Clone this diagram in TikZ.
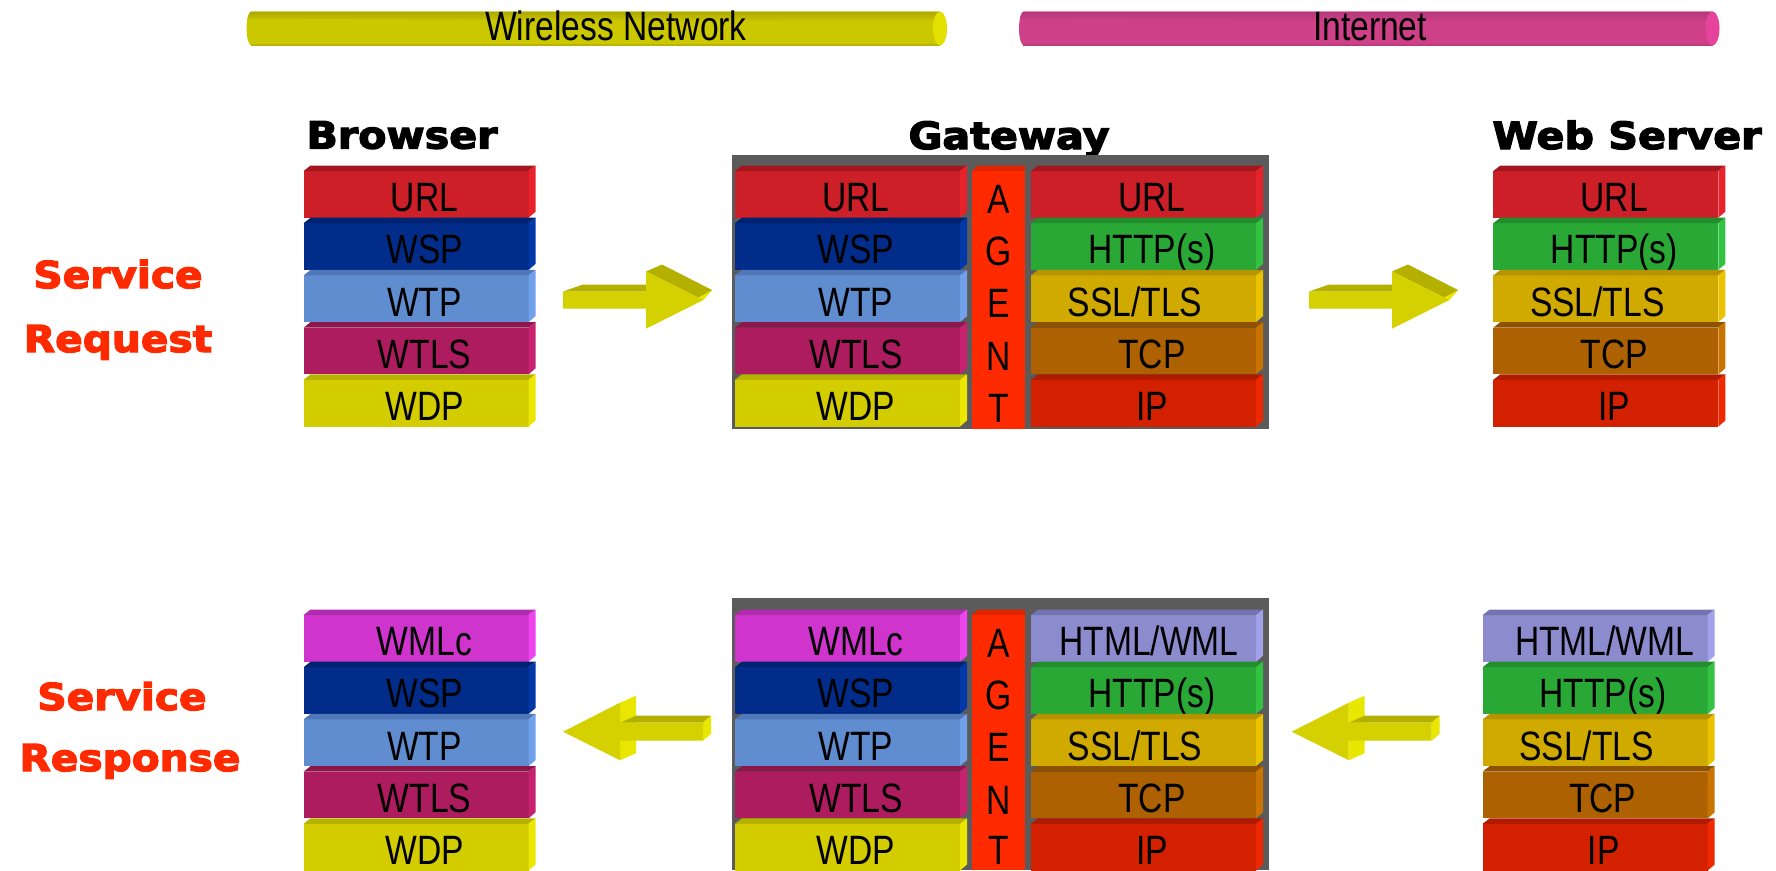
\documentclass[tikz,border=0pt]{standalone}
\usepackage{fontspec}
\setmainfont{Liberation Sans}
\newfontfamily\narrowfont[FakeStretch=0.82]{Liberation Sans}
\newfontfamily\heavyfont[FakeStretch=1.1,FakeBold=3.5]{DejaVu Sans Bold}

% layer colours: F = front face, T = top face, S = side face
\definecolor{urlF}{HTML}{CC1F27}\definecolor{urlT}{HTML}{A3181F}\definecolor{urlS}{HTML}{E8222B}
\definecolor{wspF}{HTML}{012C8A}\definecolor{wspT}{HTML}{002371}\definecolor{wspS}{HTML}{0038A8}
\definecolor{wtpF}{HTML}{608CD0}\definecolor{wtpT}{HTML}{5078B9}\definecolor{wtpS}{HTML}{70A0EA}
\definecolor{wtlsF}{HTML}{AD1C5E}\definecolor{wtlsT}{HTML}{8D164C}\definecolor{wtlsS}{HTML}{C62270}
\definecolor{wdpF}{HTML}{D3CD00}\definecolor{wdpT}{HTML}{B7B200}\definecolor{wdpS}{HTML}{EBE700}
\definecolor{httpF}{HTML}{2AA836}\definecolor{httpT}{HTML}{228E2C}\definecolor{httpS}{HTML}{34C243}
\definecolor{sslF}{HTML}{D1AA00}\definecolor{sslT}{HTML}{B69300}\definecolor{sslS}{HTML}{EAC200}
\definecolor{tcpF}{HTML}{AD6100}\definecolor{tcpT}{HTML}{8F5000}\definecolor{tcpS}{HTML}{C97300}
\definecolor{ipF}{HTML}{D32100}\definecolor{ipT}{HTML}{B01B00}\definecolor{ipS}{HTML}{EF2800}
\definecolor{wmlcF}{HTML}{CF35CD}\definecolor{wmlcT}{HTML}{B02BAE}\definecolor{wmlcS}{HTML}{EE44EE}
\definecolor{htmlF}{HTML}{8B8BCE}\definecolor{htmlT}{HTML}{7373B0}\definecolor{htmlS}{HTML}{A2A2EA}
\definecolor{agentF}{HTML}{FF2A00}\definecolor{agentT}{HTML}{E02400}
\definecolor{gwgray}{HTML}{5B5B5B}
\definecolor{arrF}{HTML}{D5D100}\definecolor{arrT}{HTML}{B4B000}\definecolor{arrS}{HTML}{E9E600}
\definecolor{wlDark}{HTML}{ADA800}\definecolor{wlMid}{HTML}{CCC800}\definecolor{wlEnd}{HTML}{E3E000}
\definecolor{inDark}{HTML}{B5377A}\definecolor{inMid}{HTML}{CE4087}\definecolor{inEnd}{HTML}{E6449C}
\definecolor{svc}{HTML}{FF2A00}

\tikzset{
  lbl/.style={anchor=base, inner sep=0pt, text=black,
    font=\narrowfont\fontsize{41}{41}\selectfont},
  title/.style={anchor=base, inner sep=0pt, text=black,
    font=\heavyfont\fontsize{37.5}{37.5}\selectfont},
  svclbl/.style={anchor=base, inner sep=0pt, text=svc,
    font=\heavyfont\fontsize{37}{37}\selectfont},
}

% one protocol layer: name, left x, top y, colour prefix, label, label offset
\newcommand\slab[6]{%
  \fill[#4F] (#2,#3+5.5) rectangle (#2+225,#3+52.2);
  \fill[#4T] (#2,#3+5.5) -- (#2+7,#3) -- (#2+232,#3) -- (#2+225,#3+5.5) -- cycle;
  \fill[#4S] (#2+225,#3+5.5) -- (#2+232,#3) -- (#2+232,#3+46.2) -- (#2+225,#3+52.2) -- cycle;
  \node[lbl] (#1) at (#2+#6,#3+46.2) {#5};
}

% block arrow pointing right, tip at (#1,#2)
\newcommand\rarrow[2]{%
  \fill[arrT] (#1-140,#2-8.5) -- (#1-120,#2-15.5) -- (#1-41,#2-15.5) -- (#1-57,#2-8.5) -- cycle;
  \fill[arrT] (#1-57,#2-28.5) -- (#1-41,#2-35.5) -- (#1+9,#2-10) -- (#1,#2) -- cycle;
  \fill[arrS] (#1,#2) -- (#1+9,#2-10) -- (#1-45,#2+20) -- (#1-57,#2+28.5) -- cycle;
  \fill[arrF] (#1-140,#2-8.5) -- (#1-57,#2-8.5) -- (#1-57,#2-28.5) -- (#1,#2)
    -- (#1-57,#2+28.5) -- (#1-57,#2+8.5) -- (#1-140,#2+8.5) -- cycle;
}

% block arrow pointing left, tip at (#1,#2)
\newcommand\larrow[2]{%
  \fill[arrS] (#1+57,#2-29) -- (#1+73,#2-36) -- (#1+73,#2+21.5) -- (#1+57,#2+28.5) -- cycle;
  \fill[arrT] (#1+57,#2-9) -- (#1+73,#2-16) -- (#1+148,#2-16) -- (#1+140,#2-9) -- cycle;
  \fill[arrS] (#1+140,#2-9) -- (#1+148,#2-16) -- (#1+148,#2+2) -- (#1+140,#2+9) -- cycle;
  \fill[arrF] (#1,#2) -- (#1+57,#2-29) -- (#1+57,#2-9) -- (#1+140,#2-9)
    -- (#1+140,#2+9) -- (#1+57,#2+9) -- (#1+57,#2+28.5) -- cycle;
}

% horizontal tube: left x, right x, dark, mid, end colour
\newcommand\tube[5]{%
  \fill[#4]
    (#2-7,11.5) -- (#1+5,11.5) arc[start angle=270, end angle=90, x radius=5, y radius=17]
    -- (#2-7,45.5) -- cycle;
  \shade[top color=#3, bottom color=#4]
    (#2-7,11.5) -- (#1+5,11.5) arc[start angle=270, end angle=215, x radius=5, y radius=17]
    -- (#2-7,22) -- cycle;
  \fill[#3!60!#4] (#1+4,43.5) rectangle (#2-7,45.5);
  \fill[#5] (#2-7,28.5) ellipse[x radius=7, y radius=17];
}

\begin{document}
\begin{tikzpicture}[x=1pt, y=-1pt]
\useasboundingbox (0,0) rectangle (1776,870);

% network tubes
\tube{246.5}{947}{wlDark}{wlMid}{wlEnd}
\node[lbl] (wireless) at (616,40.8) {Wireless Network};
\tube{1019}{1719.5}{inDark}{inMid}{inEnd}
\node[lbl] (internet) at (1370,40.8) {Internet};

% titles
\node[title] (tbrowser) at (402,148.5) {Browser};
\node[title] (tgateway) at (1009,149) {Gateway};
\node[title] (tserver) at (1627,149) {Web Server};

% side captions
\node[svclbl] (req1) at (118,288) {Service};
\node[svclbl] (req2) at (118,352) {Request};
\node[svclbl] (res1) at (122,710) {Service};
\node[svclbl] (res2) at (130,771) {Response};

% ---------- service request ----------
% browser
\slab{ba1}{303.6}{165.5}{url}{URL}{121}
\slab{ba2}{303.6}{217.7}{wsp}{WSP}{121}
\slab{ba3}{303.6}{269.9}{wtp}{WTP}{121}
\slab{ba4}{303.6}{322.1}{wtls}{WTLS}{121}
\slab{ba5}{303.6}{374.3}{wdp}{WDP}{121}

% gateway
\fill[gwgray] (731.5,155) rectangle (1269,429);
\slab{ga1}{735}{165.5}{url}{URL}{121}
\slab{ga2}{735}{217.7}{wsp}{WSP}{121}
\slab{ga3}{735}{269.9}{wtp}{WTP}{121}
\slab{ga4}{735}{322.1}{wtls}{WTLS}{121}
\slab{ga5}{735}{374.3}{wdp}{WDP}{121}
\fill[agentF] (972,171) rectangle (1025,429);
\fill[agentT] (972,171) -- (978,165.5) -- (1025,165.5) -- (1025,171) -- cycle;
\node[lbl] (gaA) at (998.5,213.5) {A};
\node[lbl] (gaG) at (998.5,265.7) {G};
\node[lbl] (gaE) at (998.5,317.9) {E};
\node[lbl] (gaN) at (998.5,370.1) {N};
\node[lbl] (gaT) at (998.5,422.3) {T};
\slab{gb1}{1031}{165.5}{url}{URL}{121}
\slab{gb2}{1031}{217.7}{http}{HTTP(s)}{121}
\slab{gb3}{1031}{269.9}{ssl}{SSL/TLS}{104}
\slab{gb4}{1031}{322.1}{tcp}{TCP}{121}
\slab{gb5}{1031}{374.3}{ip}{IP}{121}

% web server
\slab{sa1}{1493.3}{165.5}{url}{URL}{121}
\slab{sa2}{1493.3}{217.7}{http}{HTTP(s)}{121}
\slab{sa3}{1493.3}{269.9}{ssl}{SSL/TLS}{104}
\slab{sa4}{1493.3}{322.1}{tcp}{TCP}{121}
\slab{sa5}{1493.3}{374.3}{ip}{IP}{121}

\rarrow{703}{300}
\rarrow{1449}{300}

% ---------- service response ----------
% browser
\slab{bb1}{303.6}{609.5}{wmlc}{WMLc}{121}
\slab{bb2}{303.6}{661.7}{wsp}{WSP}{121}
\slab{bb3}{303.6}{713.9}{wtp}{WTP}{121}
\slab{bb4}{303.6}{766.1}{wtls}{WTLS}{121}
\slab{bb5}{303.6}{818.3}{wdp}{WDP}{121}

% gateway
\fill[gwgray] (731.5,598) rectangle (1269,870);
\slab{gc1}{735}{609.5}{wmlc}{WMLc}{121}
\slab{gc2}{735}{661.7}{wsp}{WSP}{121}
\slab{gc3}{735}{713.9}{wtp}{WTP}{121}
\slab{gc4}{735}{766.1}{wtls}{WTLS}{121}
\slab{gc5}{735}{818.3}{wdp}{WDP}{121}
\fill[agentF] (972,615) rectangle (1025,870);
\fill[agentT] (972,615) -- (978,609.5) -- (1025,609.5) -- (1025,615) -- cycle;
\node[lbl] (gcA) at (998.5,657.5) {A};
\node[lbl] (gcG) at (998.5,709.7) {G};
\node[lbl] (gcE) at (998.5,761.9) {E};
\node[lbl] (gcN) at (998.5,814.1) {N};
\node[lbl] (gcT) at (998.5,864) {T};
\slab{gd1}{1031}{609.5}{html}{HTML/WML}{118}
\slab{gd2}{1031}{661.7}{http}{HTTP(s)}{121}
\slab{gd3}{1031}{713.9}{ssl}{SSL/TLS}{104}
\slab{gd4}{1031}{766.1}{tcp}{TCP}{121}
\slab{gd5}{1031}{818.3}{ip}{IP}{121}

% web server
\slab{sb1}{1482.7}{609.5}{html}{HTML/WML}{122}
\slab{sb2}{1482.7}{661.7}{http}{HTTP(s)}{120}
\slab{sb3}{1482.7}{713.9}{ssl}{SSL/TLS}{104}
\slab{sb4}{1482.7}{766.1}{tcp}{TCP}{120}
\slab{sb5}{1482.7}{818.3}{ip}{IP}{121}

\larrow{563}{731.7}
\larrow{1291.7}{731.7}
\end{tikzpicture}
\end{document}
